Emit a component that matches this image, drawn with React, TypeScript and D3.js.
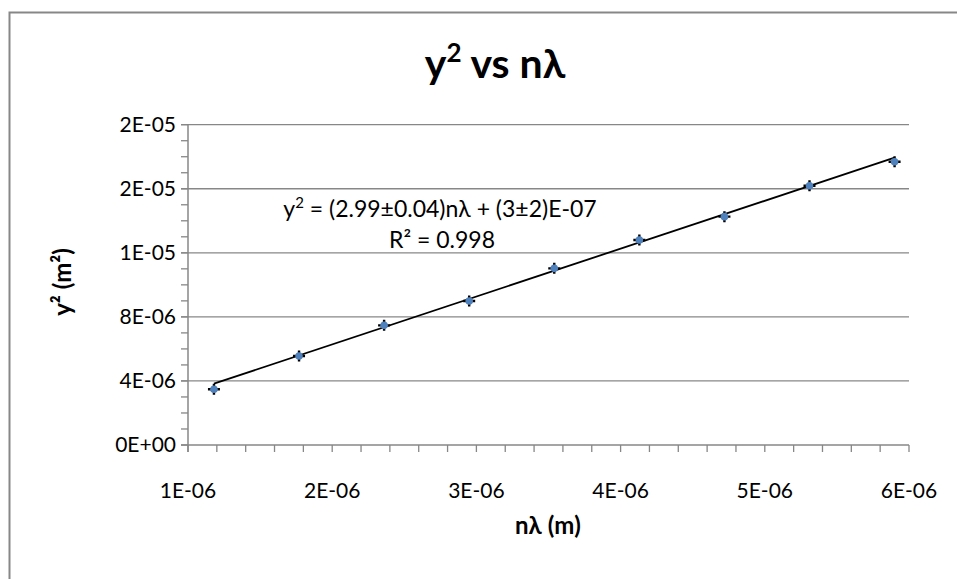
import React, { useRef, useEffect } from "react";
import * as d3 from "d3";

// Datos medidos (n·lambda en m, y^2 en m^2)
const nLambda = [1.18e-6, 1.77e-6, 2.36e-6, 2.95e-6, 3.54e-6, 4.13e-6, 4.72e-6, 5.31e-6, 5.9e-6];
const ySquared = [3.48e-6, 5.56e-6, 7.47e-6, 8.99e-6, 11.03e-6, 12.8e-6, 14.26e-6, 16.19e-6, 17.69e-6];

// Ejes
const xTicks = [1e-6, 2e-6, 3e-6, 4e-6, 5e-6, 6e-6];
const xTickLabels = ["1E-06", "2E-06", "3E-06", "4E-06", "5E-06", "6E-06"];
const yTicks = [0, 4e-6, 8e-6, 1.2e-5, 1.6e-5, 2e-5];
const yTickLabels = ["0E+00", "4E-06", "8E-06", "1E-05", "2E-05", "2E-05"];

// Recta de ajuste
const fitSlope = 2.99;
const fitIntercept = 3e-7;

const FONT = "Lato, 'Open Sans', sans-serif";
const GRAY = "#878787";

const ScatterChart = ({ width = 957, height = 579 }) => {
  const d3Container = useRef<SVGSVGElement | null>(null);

  useEffect(() => {
    const container = d3Container.current;
    if (!container) return;

    // Limpia imagen preexistente
    d3.select(container).selectChildren().remove();

    const svg = d3.select(container).style("font-family", FONT);

    const x = d3.scaleLinear().domain([1e-6, 6e-6]).range([188, 909]);
    const y = d3.scaleLinear().domain([0, 2e-5]).range([445, 124.7]);

    // Marco exterior (se sale por la derecha y por abajo)
    svg
      .append("rect")
      .attr("x", 9.5)
      .attr("y", 12.5)
      .attr("width", 990)
      .attr("height", 620)
      .attr("fill", "white")
      .attr("stroke", GRAY)
      .attr("stroke-width", 2);

    // Título
    const title = svg
      .append("text")
      .attr("x", 495)
      .attr("y", 78)
      .attr("text-anchor", "middle")
      .attr("font-weight", "bold")
      .style("font-size", "41px");
    title.append("tspan").text("y");
    title.append("tspan").text("2").style("font-size", "26px").attr("dy", -16);
    title.append("tspan").text(" vs nλ").attr("dy", 16);

    // Rejilla horizontal
    svg
      .append("g")
      .selectAll("line")
      .data(yTicks)
      .join("line")
      .attr("x1", 181)
      .attr("x2", x.range()[1])
      .attr("y1", (d) => y(d))
      .attr("y2", (d) => y(d))
      .attr("stroke", GRAY)
      .attr("stroke-width", 1.3);

    // Marcas menores eje Y
    svg
      .append("g")
      .selectAll("line")
      .data(d3.range(0, 2e-5 + 1e-9, 1e-6))
      .join("line")
      .attr("x1", 181)
      .attr("x2", 188)
      .attr("y1", (d) => y(d))
      .attr("y2", (d) => y(d))
      .attr("stroke", GRAY)
      .attr("stroke-width", 1.3);

    // Marcas menores eje X
    svg
      .append("g")
      .selectAll("line")
      .data(d3.range(1e-6, 6e-6 + 1e-9, 0.2e-6))
      .join("line")
      .attr("x1", (d) => x(d))
      .attr("x2", (d) => x(d))
      .attr("y1", y(0))
      .attr("y2", y(0) + 7)
      .attr("stroke", GRAY)
      .attr("stroke-width", 1.3);

    // Eje Y
    svg
      .append("line")
      .attr("x1", x(1e-6))
      .attr("x2", x(1e-6))
      .attr("y1", y(2e-5))
      .attr("y2", y(0) + 7)
      .attr("stroke", GRAY)
      .attr("stroke-width", 1.5);

    // Rótulos eje Y
    svg
      .append("g")
      .selectAll("text")
      .data(yTicks)
      .join("text")
      .attr("x", 176)
      .attr("y", (d) => y(d))
      .attr("dy", "0.35em")
      .attr("text-anchor", "end")
      .style("font-size", "21px")
      .text((_d, i) => yTickLabels[i]);

    // Rótulos eje X
    svg
      .append("g")
      .selectAll("text")
      .data(xTicks)
      .join("text")
      .attr("x", (d) => x(d))
      .attr("y", 498)
      .attr("text-anchor", "middle")
      .style("font-size", "21px")
      .text((_d, i) => xTickLabels[i]);

    // Títulos de ejes
    svg
      .append("text")
      .attr("x", 548)
      .attr("y", 534)
      .attr("text-anchor", "middle")
      .attr("font-weight", "bold")
      .style("font-size", "24px")
      .text("nλ (m)");

    svg
      .append("text")
      .attr("transform", "translate(71, 282) rotate(-90)")
      .attr("text-anchor", "middle")
      .attr("font-weight", "bold")
      .style("font-size", "24px")
      .text("y² (m²)");

    // Recta de ajuste sobre el rango de datos
    const [xmin, xmax] = d3.extent(nLambda) as [number, number];
    svg
      .append("line")
      .attr("x1", x(xmin))
      .attr("y1", y(fitSlope * xmin + fitIntercept))
      .attr("x2", x(xmax))
      .attr("y2", y(fitSlope * xmax + fitIntercept))
      .attr("stroke", "black")
      .attr("stroke-width", 1.8);

    // Puntos con barras de error
    const pts = svg
      .append("g")
      .selectAll("g")
      .data(nLambda.map((v, i) => ({ x: v, y: ySquared[i] })))
      .join("g")
      .attr("transform", (d) => `translate(${x(d.x)},${y(d.y)})`);
    pts
      .append("path")
      .attr("d", "M-6,0H6M0,-5.5V5.5")
      .attr("stroke", "black")
      .attr("stroke-width", 2.4);
    pts.append("circle").attr("r", 3.8).attr("fill", "#4F81BD");

    // Ecuación del ajuste
    const eq = svg
      .append("text")
      .attr("x", 440)
      .attr("y", 217)
      .attr("text-anchor", "middle")
      .style("font-size", "23px");
    eq.append("tspan").text("y");
    eq.append("tspan").text("2").style("font-size", "15px").attr("dy", -9);
    eq.append("tspan").text(" = (2.99±0.04)nλ + (3±2)E-07").attr("dy", 9);

    svg
      .append("text")
      .attr("x", 442)
      .attr("y", 248)
      .attr("text-anchor", "middle")
      .style("font-size", "23px")
      .text("R² = 0.998");
  }, [width, height]);

  return (
    <svg
      width={width}
      height={height}
      ref={d3Container}
      style={{ position: "absolute", left: 0, top: 0, background: "white" }}
    />
  );
};

export default function App() {
  return <ScatterChart />;
}
